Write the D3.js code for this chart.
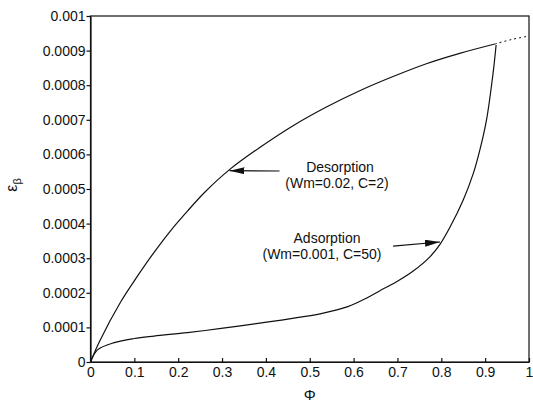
<!DOCTYPE html>
<html>
<head>
<meta charset="utf-8">
<script src="https://cdn.jsdelivr.net/npm/d3@7"></script>
<style>
  body { margin: 0; background: #fff; }
  svg { display: block; }
  .axis text { font-family: "Liberation Sans", Arial, sans-serif; font-size: 14px; fill: #111; }
  .axis path, .axis line { stroke: #111; stroke-width: 1.2; }
  .lbl { font-family: "Liberation Sans", Arial, sans-serif; font-size: 14px; fill: #111; }
</style>
</head>
<body>
<div id="vis"></div>
<script>
// desorption curve (Wm=0.02, C=2), eps in units of 1e-3
var desPhi = [0, 0.02, 0.069, 0.107, 0.145, 0.183, 0.221, 0.26, 0.317, 0.386, 0.462, 0.538, 0.614, 0.690, 0.766, 0.842, 0.922];
var desEps = [0, 0.058, 0.174, 0.248, 0.317, 0.380, 0.436, 0.490, 0.556, 0.620, 0.683, 0.737, 0.784, 0.825, 0.862, 0.892, 0.919];

// adsorption curve (Wm=0.001, C=50)
var adsPhi = [0, 0.016, 0.054, 0.1, 0.145, 0.221, 0.298, 0.374, 0.45, 0.526, 0.587, 0.63, 0.66, 0.698, 0.736, 0.774, 0.797, 0.82, 0.85, 0.873, 0.888, 0.903, 0.918, 0.925];
var adsEps = [0, 0.035, 0.056, 0.068, 0.075, 0.085, 0.097, 0.110, 0.124, 0.140, 0.160, 0.185, 0.206, 0.232, 0.263, 0.304, 0.340, 0.390, 0.468, 0.545, 0.613, 0.699, 0.834, 0.916];

// dotted extension past the hysteresis closure
var extPhi = [0.922, 0.96, 1.0];
var extEps = [0.919, 0.932, 0.942];

var xTicks = [0, 0.1, 0.2, 0.3, 0.4, 0.5, 0.6, 0.7, 0.8, 0.9, 1];
var yTicks = [0, 0.0001, 0.0002, 0.0003, 0.0004, 0.0005, 0.0006, 0.0007, 0.0008, 0.0009, 0.001];

// annotation arrows: [phiFrom, epsFrom, phiTo, epsTo]
var desArrow = [0.431, 0.552, 0.317, 0.553];
var adsArrow = [0.690, 0.335, 0.797, 0.347];

var W = 533, H = 402;
var svg = d3.select("#vis").append("svg")
    .attr("width", W)
    .attr("height", H);

var x = d3.scaleLinear().domain([0, 1]).range([90.5, 529]);
var y = d3.scaleLinear().domain([0, 0.001]).range([362, 16]);

function pts(px, py) {
  return px.map(function(d, i) { return [d, py[i] / 1000]; });
}

var line = d3.line()
    .x(function(d) { return x(d[0]); })
    .y(function(d) { return y(d[1]); })
    .curve(d3.curveCatmullRom.alpha(0.5));

// frame
svg.append("rect")
  .attr("x", x(0)).attr("y", y(0.001))
  .attr("width", x(1) - x(0)).attr("height", y(0) - y(0.001))
  .attr("fill", "none").attr("stroke", "#111").attr("stroke-width", 1.2);

var fmtY = function(d) { return d === 0 ? "0" : d.toFixed(4).replace(/0+$/, ""); };

svg.append("g")
  .attr("class", "axis")
  .attr("transform", "translate(" + x(0) + ",0)")
  .call(d3.axisLeft(y).tickValues(yTicks).tickFormat(fmtY).tickSizeInner(4).tickSizeOuter(0).tickPadding(1));

svg.append("g")
  .attr("class", "axis")
  .attr("transform", "translate(0," + y(0) + ")")
  .call(d3.axisBottom(x).tickValues(xTicks).tickFormat(d3.format("")).tickSizeInner(-4).tickSizeOuter(0).tickPadding(5));

svg.append("path")
  .attr("d", line(pts(desPhi, desEps)))
  .attr("fill", "none").attr("stroke", "#111").attr("stroke-width", 1.2);

svg.append("path")
  .attr("d", line(pts(adsPhi, adsEps)))
  .attr("fill", "none").attr("stroke", "#111").attr("stroke-width", 1.2);

svg.append("path")
  .attr("d", line(pts(extPhi, extEps)))
  .attr("fill", "none").attr("stroke", "#111").attr("stroke-width", 1)
  .attr("stroke-dasharray", "2,3");

// arrows
svg.append("defs").append("marker")
  .attr("id", "head")
  .attr("viewBox", "0 0 10 10")
  .attr("preserveAspectRatio", "none")
  .attr("refX", 10).attr("refY", 5)
  .attr("markerWidth", 15).attr("markerHeight", 7)
  .attr("markerUnits", "userSpaceOnUse")
  .attr("orient", "auto")
  .append("path").attr("d", "M0,0L10,5L0,10Z").attr("fill", "#111");

[desArrow, adsArrow].forEach(function(a) {
  svg.append("line")
    .attr("x1", x(a[0])).attr("y1", y(a[1] / 1000))
    .attr("x2", x(a[2])).attr("y2", y(a[3] / 1000))
    .attr("stroke", "#111").attr("stroke-width", 1.1)
    .attr("marker-end", "url(#head)");
});

// labels
function label(txt, px, py) {
  svg.append("text").attr("class", "lbl")
    .attr("x", px).attr("y", py)
    .attr("text-anchor", "middle")
    .text(txt);
}
label("Desorption", 340, 172);
label("(Wm=0.02, C=2)", 337, 187.5);
label("Adsorption", 327, 242.5);
label("(Wm=0.001, C=50)", 322, 258.5);

// axis titles
svg.append("text").attr("class", "lbl")
  .attr("x", (x(0) + x(1)) / 2).attr("y", 400)
  .attr("text-anchor", "middle")
  .style("font-size", "15px")
  .text("Φ");

var yt = svg.append("text").attr("class", "lbl")
  .attr("transform", "translate(17,185) rotate(-90)")
  .attr("text-anchor", "middle")
  .style("font-size", "16px");
yt.append("tspan").text("ε");
yt.append("tspan").attr("dy", 4).style("font-size", "11px").text("β");
</script>
</body>
</html>
